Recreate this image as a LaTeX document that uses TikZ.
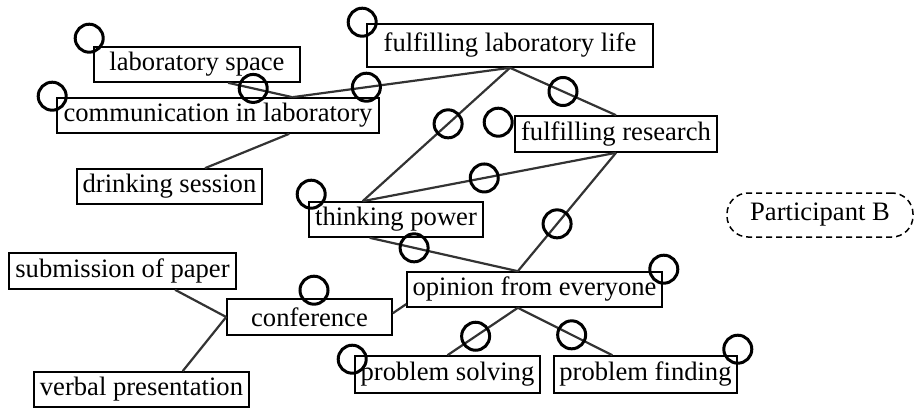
\documentclass[tikz,border=0pt]{standalone}
\usepackage{fontspec}
\setmainfont{Liberation Serif}
\usetikzlibrary{calc}
\tikzset{
  concept/.style={draw,line width=1.6pt,fill=white,inner sep=0pt,minimum height=35,font=\fontsize{26.6}{30}\selectfont},
  ring/.style={circle,draw=black,line width=3pt,minimum size=28,inner sep=0pt},
  link/.style={draw=black!80,line width=2.2pt},
}
\begin{document}
\begin{tikzpicture}[x=1pt,y=-1pt]
\useasboundingbox (0,0) rectangle (915,409);
\node[concept,minimum width=206] (labspace) at (197,64.5) {laboratory space};
\node[concept,minimum width=322] (comm) at (218,115.5) {communication in laboratory};
\node[concept,minimum width=185] (drink) at (169.5,186.5) {drinking session};
\node[concept,minimum width=286,minimum height=43] (fll) at (510,45.5) {fulfilling laboratory life};
\node[concept,minimum width=202,minimum height=36] (fres) at (616,134) {fulfilling research};
\node[concept,minimum width=174] (think) at (396,219.5) {thinking power};
\node[concept,minimum width=255] (opinion) at (534.5,289.5) {opinion from everyone};
\node[concept,minimum width=165,minimum height=36] (conf) at (309.5,317) {conference};
\node[concept,minimum width=227,minimum height=36] (subm) at (122.5,271) {submission of paper};
\node[concept,minimum width=215] (verbal) at (141.5,389.5) {verbal presentation};
\node[concept,minimum width=185,minimum height=37] (psolv) at (447.5,374.5) {problem solving};
\node[concept,minimum width=183,minimum height=37] (pfind) at (645.5,374.5) {problem finding};
\node[draw,dashed,dash pattern=on 6pt off 4pt,rounded corners=21,line width=1.5pt,minimum width=186,minimum height=44,font=\fontsize{26.6}{30}\selectfont] (partB) at (820,215) {Participant B};

\draw[link] ($(labspace.south west)!.65!(labspace.south east)$) -- node[ring,pos=.39] (r1) {} ($(comm.north west)!.73!(comm.north east)$);
\draw[link] (fll.south) -- node[ring,pos=.66] (r2) {} ($(comm.north west)!.73!(comm.north east)$);
\draw[link] ($(drink.north west)!.69!(drink.north east)$) -- ($(comm.south west)!.72!(comm.south east)$);
\draw[link] (fll.south) -- node[ring,pos=.5] (r3) {} (fres.north);
\draw[link] (fll.south) -- node[ring,pos=.42] (r4) {} ($(think.north west)!.31!(think.north east)$);
\draw[link] (fres.south) -- node[ring,pos=.52] (r5) {} ($(think.north west)!.31!(think.north east)$);
\draw[link] (fres.south) -- node[ring,pos=.6] (r6) {} ($(opinion.north west)!.435!(opinion.north east)$);
\draw[link] ($(think.south west)!.35!(think.south east)$) -- node[ring,pos=.3] (r7) {} ($(opinion.north west)!.435!(opinion.north east)$);
\draw[link] ($(opinion.south west)!.435!(opinion.south east)$) -- node[ring,pos=.6] (r8) {} (psolv.north);
\draw[link] ($(opinion.south west)!.435!(opinion.south east)$) -- node[ring,pos=.57] (r9) {} ($(pfind.north west)!.32!(pfind.north east)$);
\draw[link] ($(conf.north east)!.4!(conf.south east)$) -- ($(opinion.south west)!.1!(opinion.north west)$);
\draw[link] ($(subm.south west)!.73!(subm.south east)$) -- (conf.west);
\draw[link] ($(verbal.north west)!.69!(verbal.north east)$) -- (conf.west);

\node[ring] (c1) at ([shift={(-4,-8)}]labspace.north west) {};
\node[ring] (c2) at ([shift={(-4,-1)}]comm.north west) {};
\node[ring] (c3) at ([shift={(-4,-1)}]fll.north west) {};
\node[ring] (c4) at ([shift={(-16,7)}]fres.north west) {};
\node[ring] (c5) at ([shift={(3,-7)}]think.north west) {};
\node[ring] (c6) at ([shift={(1,-2)}]opinion.north east) {};
\node[ring] (c7) at ([shift={(4.5,-8)}]conf.north) {};
\node[ring] (c8) at ([shift={(-2,4)}]psolv.north west) {};
\node[ring] (c9) at ([shift={(0,-6)}]pfind.north east) {};
\end{tikzpicture}
\end{document}
